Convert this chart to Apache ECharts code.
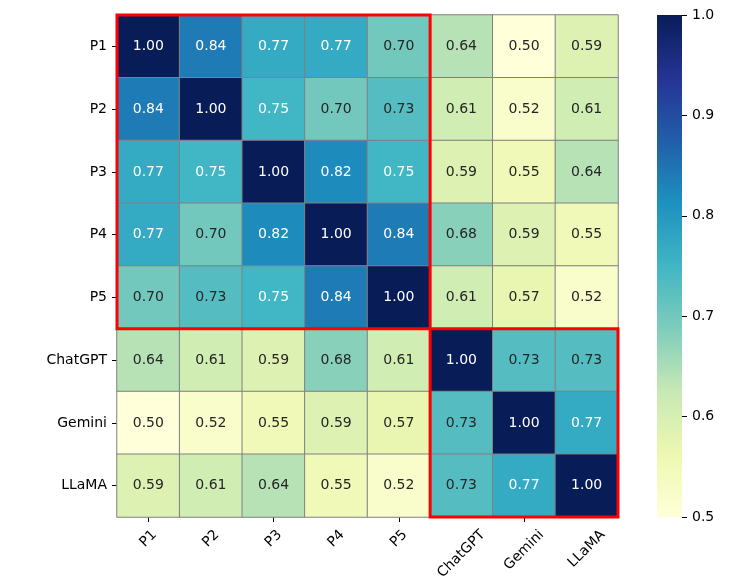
<!DOCTYPE html>
<html><head><meta charset="utf-8">
<script src="https://cdn.jsdelivr.net/npm/echarts@6/dist/echarts.min.js"></script>
<style>html,body{margin:0;padding:0;background:#fff}#c{width:748px;height:580px}</style>
</head><body><div id="c"></div>
<script>
const labels = ['P1','P2','P3','P4','P5','ChatGPT','Gemini','LLaMA'];
const rowP1 = [1.00,0.84,0.77,0.77,0.70,0.64,0.50,0.59];
const rowP2 = [0.84,1.00,0.75,0.70,0.73,0.61,0.52,0.61];
const rowP3 = [0.77,0.75,1.00,0.82,0.75,0.59,0.55,0.64];
const rowP4 = [0.77,0.70,0.82,1.00,0.84,0.68,0.59,0.55];
const rowP5 = [0.70,0.73,0.75,0.84,1.00,0.61,0.57,0.52];
const rowChatGPT = [0.64,0.61,0.59,0.68,0.61,1.00,0.73,0.73];
const rowGemini = [0.50,0.52,0.55,0.59,0.57,0.73,1.00,0.77];
const rowLLaMA = [0.59,0.61,0.64,0.55,0.52,0.73,0.77,1.00];
const colorbarMin = 0.5, colorbarMax = 1.0, colorbarStep = 0.1;
const palette = ['#ffffd9','#edf8b1','#c7e9b4','#7fcdbb','#41b6c4','#1d91c0','#225ea8','#253494','#081d58'];

const rows = [rowP1,rowP2,rowP3,rowP4,rowP5,rowChatGPT,rowGemini,rowLLaMA];
const data = [];
rows.forEach((r,yi)=>r.forEach((v,xi)=>data.push({value:[xi,yi,v],label:{color:v>=0.745?'#ffffff':'#262626'}})));
const FONT = 'DejaVu Sans';
const FS = 14;
const chart = echarts.init(document.getElementById('c'));
chart.setOption({
  animation:false,
  textStyle:{fontFamily:FONT},
  grid:[
    {left:117, top:15, width:501, height:502},
    {left:657, top:15, width:25, height:502}
  ],
  xAxis:[
    {type:'category', data:labels, gridIndex:0,
     axisLine:{show:false}, splitLine:{show:false},
     axisTick:{show:true, alignWithLabel:true, length:5, lineStyle:{color:'#000'}},
     axisLabel:{show:false}},
    {type:'value', gridIndex:1, show:false, min:0, max:1}
  ],
  yAxis:[
    {type:'category', data:labels, inverse:true, gridIndex:0,
     axisLine:{show:false}, splitLine:{show:false},
     axisTick:{show:true, alignWithLabel:true, length:5, lineStyle:{color:'#000'}},
     axisLabel:{color:'#000', fontSize:FS, fontFamily:FONT, margin:10, interval:0}},
    {type:'value', gridIndex:1, position:'right', min:colorbarMin, max:colorbarMax, interval:colorbarStep,
     axisLine:{show:false, onZero:false}, splitLine:{show:false},
     axisTick:{show:true, length:5, lineStyle:{color:'#000'}},
     axisLabel:{color:'#000', fontSize:FS, fontFamily:FONT, margin:10, formatter:v=>v.toFixed(1)}}
  ],
  visualMap:{
    type:'continuous', min:colorbarMin, max:colorbarMax, show:false, seriesIndex:0,
    inRange:{color:palette}
  },
  series:[{
    type:'heatmap', xAxisIndex:0, yAxisIndex:0, data:data,
    itemStyle:{borderColor:'#808080', borderWidth:1},
    label:{show:true, fontSize:FS, fontFamily:FONT,
      formatter:p=>p.value[2].toFixed(2)},
    emphasis:{disabled:true}
  }]
});

function boxFor(x0,y0,x1,y1){
  const a = chart.convertToPixel({gridIndex:0},[x0,y0]);
  const b = chart.convertToPixel({gridIndex:0},[x1,y1]);
  const cw = 501/8, ch = 502/8;
  return {x:a[0]-cw/2, y:a[1]-ch/2, width:b[0]-a[0]+cw, height:b[1]-a[1]+ch};
}
const r1 = boxFor(0,0,4,4), r2 = boxFor(5,5,7,7);
const cbTop = chart.convertToPixel({xAxisIndex:1,yAxisIndex:1},[0,colorbarMax]);
const cbBot = chart.convertToPixel({xAxisIndex:1,yAxisIndex:1},[1,colorbarMin]);
const stops = palette.map((c,i)=>({offset:1-i/(palette.length-1), color:c}));
stops.reverse();

// rotated x labels, centred under each tick (matplotlib style)
const ctx = document.createElement('canvas').getContext('2d');
ctx.font = FS + 'px "' + FONT + '"';
const bottomY = chart.convertToPixel({gridIndex:0},[0,7])[1] + 502/16;
const textH = FS * 1.15;
const xLabelGraphics = labels.map((lab,i)=>{
  const px = chart.convertToPixel({gridIndex:0},[i,7])[0];
  const w = ctx.measureText(lab).width;
  const cy = bottomY + 5 + 5 + (w + textH) / (2*Math.SQRT2);
  return {type:'text', x:px, y:cy, rotation:Math.PI/4,
    style:{text:lab, fill:'#000', font:FS+'px "'+FONT+'"', align:'center', verticalAlign:'middle'}, z:50};
});

chart.setOption({graphic:[
  {type:'rect', shape:{x:cbTop[0], y:cbTop[1], width:cbBot[0]-cbTop[0], height:cbBot[1]-cbTop[1]},
   style:{fill:new echarts.graphic.LinearGradient(0,0,0,1,stops)}, z:1},
  {type:'rect', shape:r1, style:{fill:null, stroke:'#ff0000', lineWidth:3}, z:100},
  {type:'rect', shape:r2, style:{fill:null, stroke:'#ff0000', lineWidth:3}, z:100}
].concat(xLabelGraphics)});
</script></body></html>
